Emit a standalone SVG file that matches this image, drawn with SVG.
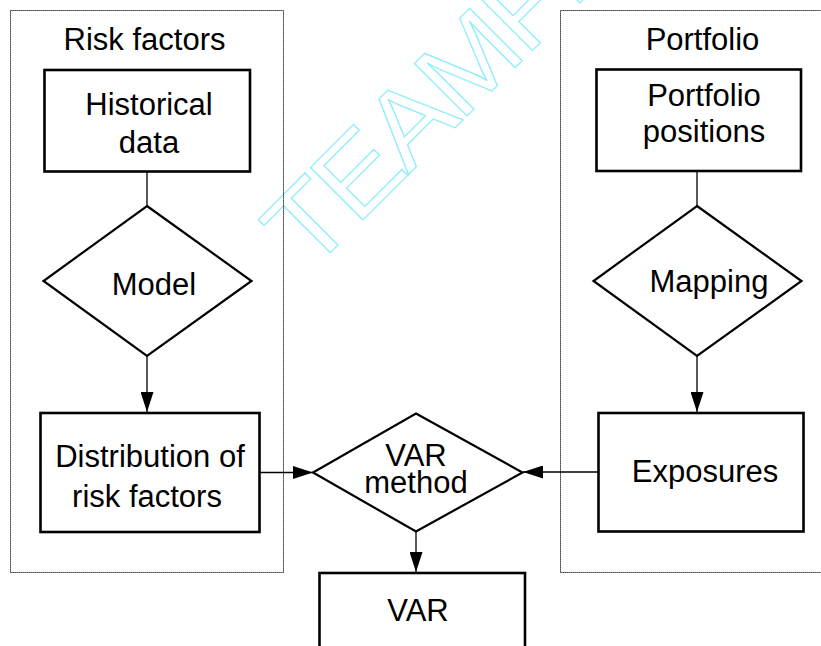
<svg xmlns="http://www.w3.org/2000/svg" width="821" height="646" viewBox="0 0 821 646">
<style>
.panel{fill:none;stroke:#000;stroke-width:1;stroke-dasharray:1.2 0.8}
.box{fill:#fff;stroke:#000;stroke-width:2.6}
.dia{fill:#fff;stroke:#000;stroke-width:2.2}
.t{font-family:"Liberation Sans",Arial,Helvetica,sans-serif;font-size:31px;fill:#000;text-anchor:middle}
.conn{stroke:#000;stroke-width:1.3;fill:none}
.wm{font-family:"Liberation Sans",Arial,sans-serif;font-size:108px;letter-spacing:-4px;fill:none;stroke:#8ceefa;stroke-width:1.2}
</style>
<defs>
<marker id="ah" markerUnits="userSpaceOnUse" markerWidth="20" markerHeight="13" refX="20" refY="6.5" orient="auto">
<path d="M0,0 L20,6.5 L0,13 z" fill="#000"/>
</marker>
</defs>
<rect width="821" height="646" fill="#fff"/>
<text class="wm" transform="translate(309,274) rotate(-45) scale(1.08,1)">TEAMFLY</text>
<g id="panel-risk">
<rect class="panel" x="10.5" y="10.5" width="273" height="562"/>
<text class="t" x="144.5" y="50">Risk factors</text>
</g>
<g id="panel-portfolio">
<rect class="panel" x="560.5" y="10.5" width="270" height="562"/>
<text class="t" x="702.5" y="50">Portfolio</text>
</g>
<g id="connectors">
<line class="conn" x1="147" y1="171.5" x2="147" y2="206"/>
<line class="conn" x1="147" y1="356" x2="147" y2="412" marker-end="url(#ah)"/>
<line class="conn" x1="259" y1="472.5" x2="313" y2="472.5" marker-end="url(#ah)"/>
<line class="conn" x1="598" y1="472" x2="523" y2="472" marker-end="url(#ah)"/>
<line class="conn" x1="697" y1="171" x2="697" y2="206"/>
<line class="conn" x1="697" y1="356" x2="697" y2="412" marker-end="url(#ah)"/>
<line class="conn" x1="416" y1="532" x2="416" y2="572" marker-end="url(#ah)"/>
</g>
<g id="historical-data">
<rect class="box" x="44.5" y="70" width="205.5" height="101.5"/>
<text class="t" x="149" y="115">Historical</text>
<text class="t" x="149" y="153">data</text>
</g>
<g id="model">
<polygon class="dia" points="147,206 251.5,281 147,356 43.5,281"/>
<text class="t" x="154" y="294.5">Model</text>
</g>
<g id="distribution">
<rect class="box" x="40.5" y="413" width="219" height="119"/>
<text class="t" x="150" y="467">Distribution of</text>
<text class="t" x="147" y="506.5">risk factors</text>
</g>
<g id="portfolio-positions">
<rect class="box" x="596.5" y="69.5" width="204.5" height="101.5"/>
<text class="t" x="704" y="106">Portfolio</text>
<text class="t" x="704" y="142">positions</text>
</g>
<g id="mapping">
<polygon class="dia" points="697,206 801.5,281 697,356 593.5,281"/>
<text class="t" x="709" y="292">Mapping</text>
</g>
<g id="exposures">
<rect class="box" x="598.5" y="413" width="205" height="118.5"/>
<text class="t" x="705" y="481.5">Exposures</text>
</g>
<g id="var-method">
<polygon class="dia" points="416,413.5 522.5,472.5 416,531.5 313,472.5"/>
<text class="t" x="416" y="466">VAR</text>
<text class="t" x="416" y="493">method</text>
</g>
<g id="var">
<rect class="box" x="319.5" y="573" width="205.5" height="90"/>
<text class="t" x="418" y="621">VAR</text>
</g>
</svg>
